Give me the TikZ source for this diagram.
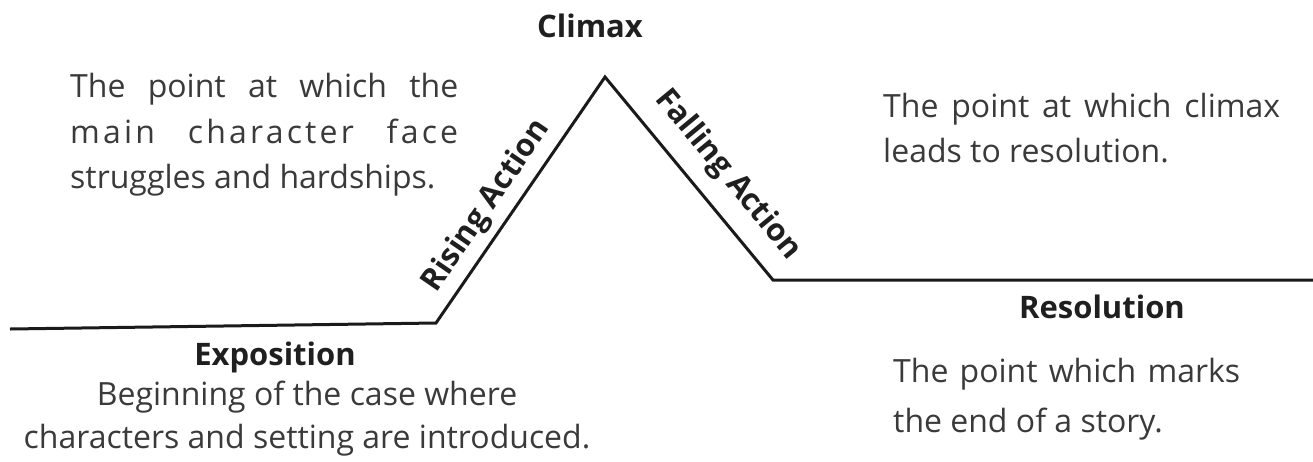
\documentclass[tikz,border=0pt]{standalone}
\usepackage{fontspec}
\setmainfont{Open Sans}
\newfontfamily\spacedfont[LetterSpace=10]{Open Sans}
\definecolor{bodygray}{HTML}{3A3A3A}
\definecolor{titlegray}{HTML}{1F1F1F}
\definecolor{linegray}{HTML}{1A1A1A}
\begin{document}
\begin{tikzpicture}[x=1pt,y=-1pt,
  body/.style={font=\fontsize{32}{40}\selectfont, text=bodygray, inner sep=0pt},
  title/.style={font=\fontsize{31}{38}\selectfont\bfseries, text=titlegray, inner sep=0pt},
  plot/.style={line width=3pt, draw=linegray, line join=miter}]
\useasboundingbox (0,0) rectangle (1313,461);
% plot line
\coordinate (p0) at (10,329);
\coordinate (p1) at (436,323);
\coordinate (p2) at (605,77);
\coordinate (p3) at (773,280);
\coordinate (p4) at (1313,280);
\draw[plot] (p0) -- (p1) -- (p2) -- (p3) -- (p4);
% titles
\node[title, anchor=base] (climax) at (590,37) {Climax};
\node[title, anchor=base] (resol) at (1102,318) {Resolution};
\node[title, anchor=base] (expo) at (275,365) {Exposition};
\node[title, rotate=55.5] (rising) at (487,206) {Rising Action};
\node[title, rotate=-50.4] (falling) at (728,175) {Falling Action};
% left paragraph
\node[body, anchor=base west] (l1) at (70,97) {\makebox[388pt][s]{The point at which the}};
\node[body, anchor=base west] (l2) at (70,143) {\spacedfont\makebox[388pt][s]{main character face}};
\node[body, anchor=base west] (l3) at (70,188) {struggles and hardships.};
% right upper paragraph
\node[body, anchor=base west] (r1) at (883,117) {\makebox[397pt][s]{The point at which climax}};
\node[body, anchor=base west] (r2) at (883,162) {leads to resolution.};
% right lower paragraph
\node[body, anchor=base west] (r3) at (893,382) {\makebox[347pt][s]{The point which marks}};
\node[body, anchor=base west] (r4) at (893,432) {the end of a story.};
% exposition text
\node[body, anchor=base] (e1) at (307,405) {Beginning of the case where};
\node[body, anchor=base] (e2) at (307,448) {characters and setting are introduced.};
\end{tikzpicture}
\end{document}
